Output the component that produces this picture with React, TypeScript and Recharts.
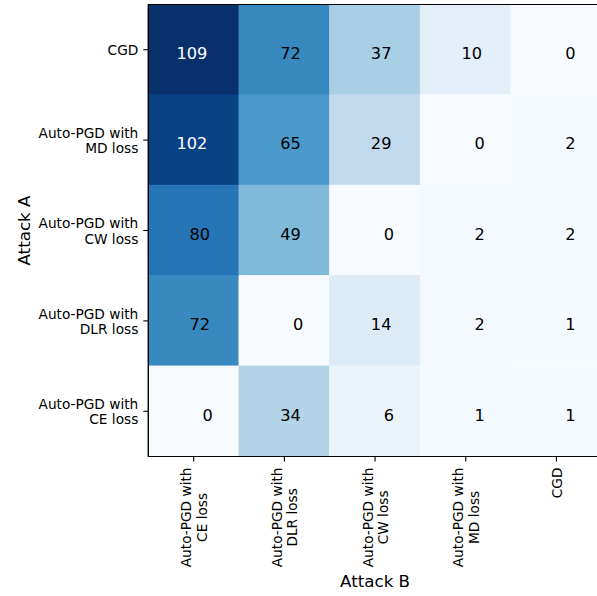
import React from 'react';
import { BarChart, Bar, Cell, XAxis, YAxis, LabelList, ReferenceArea } from 'recharts';

// Attack A (rows, top to bottom) vs Attack B (columns, left to right)
const rowLabels = [
  'CGD',
  'Auto-PGD with\nMD loss',
  'Auto-PGD with\nCW loss',
  'Auto-PGD with\nDLR loss',
  'Auto-PGD with\nCE loss',
];
const colLabels = [
  'Auto-PGD with\nCE loss',
  'Auto-PGD with\nDLR loss',
  'Auto-PGD with\nCW loss',
  'Auto-PGD with\nMD loss',
  'CGD',
];
const rowCGD = [109, 72, 37, 10, 0];
const rowMD = [102, 65, 29, 0, 2];
const rowCW = [80, 49, 0, 2, 2];
const rowDLR = [72, 0, 14, 2, 1];
const rowCE = [0, 34, 6, 1, 1];
const matrix = [rowCGD, rowMD, rowCW, rowDLR, rowCE];
const colTicks = [0.5, 1.5, 2.5, 3.5, 4.5];

const FONT = 'DejaVu Sans, sans-serif';

// matplotlib "Blues" colormap stops
const BLUES = [
  [247, 251, 255], [222, 235, 247], [198, 219, 239], [158, 202, 225],
  [107, 174, 214], [66, 146, 198], [33, 113, 181], [8, 81, 156], [8, 48, 107],
];
const vmax = Math.max(...matrix.flat());

const blues = (v: number) => {
  const t = Math.min(1, Math.max(0, v / vmax)) * (BLUES.length - 1);
  const i = Math.min(BLUES.length - 2, Math.floor(t));
  const f = t - i;
  const c = BLUES[i].map((a, k) => Math.round(a + (BLUES[i + 1][k] - a) * f));
  return `rgb(${c[0]},${c[1]},${c[2]})`;
};

const data = rowLabels.map((name, r) => {
  const row: any = { name };
  matrix[r].forEach((v, c) => {
    row[`c${c}`] = 1;
    row[`v${c}`] = v;
  });
  return row;
});

const measure = (() => {
  let ctx: CanvasRenderingContext2D | null = null;
  return (s: string, size: number) => {
    if (!ctx) ctx = document.createElement('canvas').getContext('2d');
    if (!ctx) return s.length * size * 0.56;
    ctx.font = `${size}px "DejaVu Sans"`;
    return ctx.measureText(s).width;
  };
})();

const TICK_SIZE = 13.7;
const LINE_GAP = 15.4;
const PLOT_H = 452;

const YTick = (props: any) => {
  const { x, y, payload } = props;
  const lines = String(payload.value).split('\n');
  return (
    <g>
      {lines.map((ln, i) => (
        <text key={i} x={x} y={y + 5.4 + (i - (lines.length - 1) / 2) * LINE_GAP}
          textAnchor="end" fontFamily={FONT} fontSize={TICK_SIZE} fill="#000">{ln}</text>
      ))}
    </g>
  );
};

const XTick = (props: any) => {
  const { x, y, payload } = props;
  const lines = colLabels[Math.round(payload.value - 0.5)].split('\n');
  const maxLen = Math.max(...lines.map((l) => measure(l, TICK_SIZE)));
  const cy = y + 1 + maxLen / 2;
  return (
    <g>
      {lines.map((ln, i) => {
        const bx = x + 5.4 + (i - (lines.length - 1) / 2) * LINE_GAP;
        return (
          <text key={i} transform={`translate(${bx},${cy}) rotate(-90)`} x={0} y={0}
            textAnchor="middle" fontFamily={FONT} fontSize={TICK_SIZE} fill="#000">{ln}</text>
        );
      })}
    </g>
  );
};

const cellLabel = (props: any) => {
  const { x, y, width, height, value } = props;
  const s = String(value);
  const dx = -1.7 + 7.8 * (3 - s.length);
  return (
    <text x={x + width / 2 + dx} y={y + height / 2 + 9.5} textAnchor="middle"
      fontFamily={FONT} fontSize={16.2} fill={value > 90 ? '#fff' : '#000'}>{s}</text>
  );
};

const App: React.FC = () => {
  return (
    <div style={{ position: 'absolute', left: 0, top: 0, width: 597, height: 596, overflow: 'hidden', background: '#fff' }}>
      <BarChart width={610} height={596} data={data} layout="vertical" barCategoryGap={0}
        margin={{ top: 4.5, right: 8.2, bottom: 0, left: 0 }}>
        <XAxis type="number" domain={[0, 5]} ticks={colTicks} interval={0} height={596 - 4.5 - PLOT_H}
          tickSize={5} tickMargin={5} tick={<XTick />} stroke="#000" strokeWidth={1.1}
          allowDataOverflow
          label={{
            content: (p: any) => {
              const vb = p.viewBox;
              return (
                <text x={vb.x + vb.width / 2} y={vb.y + 130.2} textAnchor="middle"
                  fontFamily={FONT} fontSize={16.7} fill="#000">Attack B</text>
              );
            },
          }} />
        <YAxis type="category" dataKey="name" width={148.3} interval={0}
          tickSize={5} tickMargin={5} tick={<YTick />} stroke="#000" strokeWidth={1.1}
          label={{
            content: (p: any) => {
              const vb = p.viewBox;
              const cy = vb.y + vb.height / 2;
              return (
                <text transform={`translate(30,${cy}) rotate(-90)`} x={0} y={0} textAnchor="middle"
                  fontFamily={FONT} fontSize={16.7} fill="#000">Attack A</text>
              );
            },
          }} />
        {colTicks.map((_, c) => (
          <Bar key={c} dataKey={`c${c}`} stackId="m" isAnimationActive={false}>
            {data.map((d, r) => (
              <Cell key={r} fill={blues(matrix[r][c])} stroke={blues(matrix[r][c])} strokeWidth={1} />
            ))}
            <LabelList dataKey={`v${c}`} content={cellLabel} />
          </Bar>
        ))}
        {/* spines around the image */}
        <ReferenceArea x1={0} x2={5} fill="none" fillOpacity={0} stroke="#000" strokeWidth={1.1}
          strokeOpacity={1} ifOverflow="visible" zIndex={1500} />
      </BarChart>
    </div>
  );
};

export default App;
